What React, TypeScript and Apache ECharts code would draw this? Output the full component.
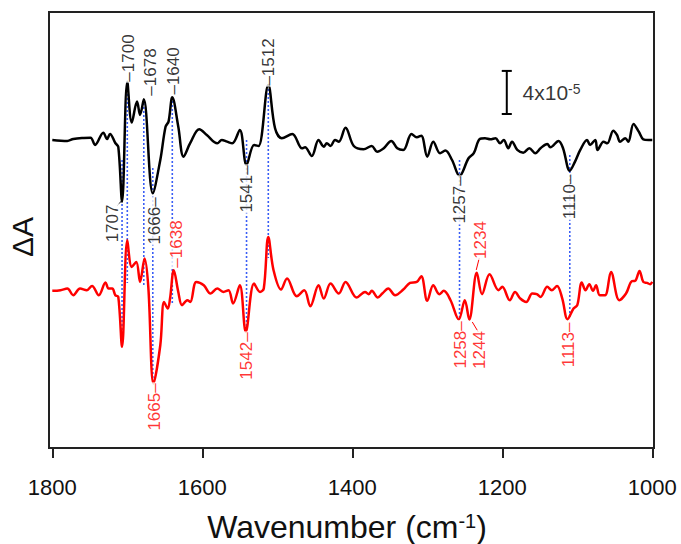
import React, { useEffect, useRef } from "react";
import * as echarts from "echarts";

const FONT = "'Liberation Sans', Arial, Helvetica, sans-serif";

// x ticks (wavenumber, cm-1)
const xTicks = [1800, 1600, 1400, 1200, 1000];

// Black trace: wavenumber and dA (units of 1e-5)
const blackWn = [1800,1780,1772,1758,1749,1743,1732,1727,1723,1716,1712,1707,1700,1694,1687,1683,1678,1666,1656,1649,1645,1640,1632,1625,1616,1604,1594,1580,1574,1567,1560,1550,1541,1531,1525,1512,1503,1494,1480,1467,1463,1454,1445,1438,1434,1429,1423,1418,1409,1398,1385,1374,1367,1358,1348,1340,1332,1321,1314,1308,1300,1292,1283,1276,1267,1257,1245,1238,1230,1223,1216,1209,1203,1198,1192,1187,1180,1172,1164,1156,1149,1140,1136,1125,1119,1110,1103,1096,1087,1083,1076,1073,1065,1060,1052,1047,1043,1036,1032,1025,1018,1012,1005,1000];
const blackDA = [0,-0.09,0.09,0.19,0.21,-0.46,0.68,0.09,0.56,-0.28,-0.65,-5.73,5.41,1.61,3.56,2.32,3.78,-4.95,-1.86,1.23,1.70,3.96,1.23,-1.55,-0.28,0.99,0.46,-0.31,0,-0.16,-0.31,0.93,-2.32,-0.46,-0.56,5.11,1.09,0.16,0.56,-0.77,-0.68,-1.49,0,-0.62,-0.31,-0.56,0,-0.16,1.14,-0.56,-0.86,-0.56,-1.09,-0.77,-0.09,-0.77,-0.93,0.56,0.25,0.40,-1.55,-0.16,-1.23,-0.99,-1.86,-3.34,-1.70,-1.23,0.09,0.16,0.06,0.16,-0.31,0,-0.77,-0.16,-0.93,-1.18,-0.77,-1.23,-0.77,-0.37,-0.68,-0.09,-0.77,-2.85,-2.01,-0.93,0,-0.46,0,-0.93,-0.16,-0.31,0.86,0.46,-0.16,0.16,-0.16,1.49,0.77,0.06,0,0];

// Red trace: wavenumber and dA (units of 1e-5)
const redWn = [1800,1789,1780,1772,1763,1754,1747,1738,1729,1725,1720,1716,1712,1707,1700,1694,1688,1683,1677,1672,1665,1656,1651,1646,1643,1638,1632,1627,1620,1616,1608,1598,1589,1580,1572,1565,1559,1550,1542,1531,1523,1518,1512,1505,1495,1487,1474,1464,1456,1445,1438,1429,1418,1409,1394,1383,1378,1374,1366,1360,1352,1343,1332,1323,1314,1308,1300,1292,1284,1278,1269,1258,1250,1244,1234,1227,1217,1205,1200,1190,1183,1176,1168,1160,1154,1149,1140,1134,1127,1120,1113,1105,1100,1094,1089,1084,1079,1075,1070,1063,1055,1044,1035,1027,1023,1017,1012,1007,1003,1000];
const redDA = [-0.06,0,0.16,-0.46,0.16,0,0.40,-0.46,0.71,0.16,0.16,-0.46,-0.62,-5.26,4.64,2.16,2.63,0.77,2.94,0.31,-8.66,-5.11,-1.09,-1.70,-0.77,1.86,-0.16,-1.39,-0.93,-1.09,0.77,0.46,-0.31,0.16,-0.16,0,-1.23,0.46,-3.87,0.62,-0.16,0.16,4.95,1.86,0.06,1.09,-0.56,0,-1.49,0.46,-0.77,0.62,-0.31,0.77,-0.68,-0.16,-0.37,-0.06,-0.68,-0.31,0.16,-0.46,0.06,0.68,0.77,1.30,-0.99,0.46,-0.37,-0.06,-0.93,-2.72,-0.93,-2.72,1.61,-0.37,1.49,0,0.31,-0.93,-0.16,-0.77,-1.09,-0.31,-0.37,-0.62,0.31,0,0.40,-0.77,-2.69,-1.70,-1.39,0.71,0,0.56,-0.06,0.46,-0.46,-0.46,1.70,-0.93,-0.31,0.84,0.86,1.79,0.77,0.68,0.56,0.77];

// vertical offset of the red trace (1e-5 units)
const RED_OFFSET = -13.95;

// Blue dotted guide lines: wavenumber, top, bottom (plot units)
const guideWn = [1707, 1700, 1678, 1666, 1640, 1541, 1512, 1257, 1110];
const guideTop = [-1.86, 5.39, 3.81, -2.6, 3.99, 0, 5.11, -1.86, -1.39];
const guideBottom = [-19.13, -13.28, -13.65, -22.56, -15.32, -17.64, -10.96, -16.71, -16.62];

// Peak labels
const labelText = ["\u20131700", "\u20131678", "\u20131640", "\u20131512", "1707", "1666\u2013", "1541\u2013", "1257\u2013", "1110\u2013",
  "\u20131638", "1665\u2013", "1542\u2013", "1258\u2013", "1244", "1234", "1113\u2013"];
const labelWn = [1698.7, 1669.3, 1638.7, 1512, 1720, 1664, 1541.3, 1257.3, 1110.7,
  1634.7, 1664, 1541.3, 1256, 1230.7, 1229.3, 1112];
const labelY = [7.61, 6.31, 6.41, 7.24, -7.75, -7.52, -4.55, -5.57, -5.29,
  -9.66, -24.79, -20.06, -19.03, -19.5, -9.29, -19.03];
const labelIsRed = [false, false, false, false, false, false, false, false, false,
  true, true, true, true, true, true, true];

// Angled leader lines (wn1, y1, wn2, y2)
const leaders = [
  { wn: [1713.3, 1707.3], y: [-6.1, -5.62], red: false },
  { wn: [1230.7, 1234.7], y: [-10.96, -12.07], red: true },
  { wn: [1240, 1232], y: [-16.9, -17.83], red: true },
];

// Scale bar (4x10^-5)
const scaleWn = 1194;
const scaleTop = 6.41;
const scaleBottom = 2.41;

export default function App() {
  const ref = useRef<HTMLDivElement>(null);

  useEffect(() => {
    if (!ref.current) return;
    const chart = echarts.init(ref.current, null, { renderer: "svg", width: 681, height: 544 });

    const series: any[] = [];

    guideWn.forEach((w, i) => {
      series.push({
        type: "line",
        data: [[w, guideTop[i]], [w, guideBottom[i]]],
        symbol: "none",
        silent: true,
        z: 1,
        lineStyle: { color: "#3a5ef5", width: 1.6, type: [2, 2] },
      });
    });

    series.push({
      type: "line",
      name: "black",
      data: blackWn.map((w, i) => [w, blackDA[i]]),
      symbol: "none",
      smooth: 0.35,
      z: 3,
      lineStyle: { color: "#000", width: 2.5 },
    });
    series.push({
      type: "line",
      name: "red",
      data: redWn.map((w, i) => [w, redDA[i] + RED_OFFSET]),
      symbol: "none",
      smooth: 0.35,
      z: 3,
      lineStyle: { color: "#ff0000", width: 2.5 },
    });

    leaders.forEach((l) => {
      series.push({
        type: "line",
        data: [[l.wn[0], l.y[0]], [l.wn[1], l.y[1]]],
        symbol: "none",
        z: 4,
        lineStyle: { color: l.red ? "#ff0000" : "#111", width: 1 },
      });
    });

    // scale bar
    const capHalf = 6.7;
    series.push({
      type: "line",
      data: [[scaleWn, scaleTop], [scaleWn, scaleBottom]],
      symbol: "none",
      z: 4,
      lineStyle: { color: "#000", width: 2 },
    });
    series.push({
      type: "line",
      data: [[scaleWn + capHalf, scaleTop], [scaleWn - capHalf, scaleTop]],
      symbol: "none",
      z: 4,
      lineStyle: { color: "#000", width: 2 },
    });
    series.push({
      type: "line",
      data: [[scaleWn + capHalf, scaleBottom], [scaleWn - capHalf, scaleBottom]],
      symbol: "none",
      z: 4,
      lineStyle: { color: "#000", width: 2 },
    });
    series.push({
      type: "scatter",
      data: [[scaleWn - 21, (scaleTop + scaleBottom) / 2]],
      symbolSize: 0,
      itemStyle: { color: "rgba(0,0,0,0)" },
      z: 5,
      label: {
        show: true,
        position: "inside",
        align: "left",
        verticalAlign: "middle",
        formatter: "{a|4x10}{s|-5}",
        rich: {
          a: { fontSize: 21, fontFamily: FONT, color: "#000" },
          s: { fontSize: 14, fontFamily: FONT, color: "#000", verticalAlign: "top" },
        },
      },
    });

    series.push({
      type: "scatter",
      symbolSize: 0,
      itemStyle: { color: "rgba(0,0,0,0)" },
      z: 6,
      data: labelText.map((t, i) => ({
        value: [labelWn[i], labelY[i]],
        label: {
          formatter: t,
          color: labelIsRed[i] ? "#ff0000" : "#000",
        },
      })),
      label: {
        show: true,
        position: "inside",
        rotate: 90,
        fontSize: 17,
        fontFamily: FONT,
        backgroundColor: "#fff",
        padding: [0, 1],
      },
    });

    chart.setOption({
      animation: false,
      grid: {
        left: 49,
        right: 27,
        top: 12,
        bottom: 96,
        containLabel: false,
        outerBoundsMode: "none",
        show: true,
        borderColor: "#222",
        borderWidth: 2,
        backgroundColor: "#fff",
      },
      xAxis: {
        type: "value",
        inverse: true,
        min: 997.7,
        max: 1804.4,
        axisLine: { show: true, onZero: false, lineStyle: { color: "#222", width: 2 } },
        axisTick: {
          show: true,
          inside: false,
          length: 10,
          customValues: xTicks,
          lineStyle: { color: "#222", width: 2 },
        },
        axisLabel: {
          show: true,
          customValues: xTicks,
          fontSize: 22,
          fontFamily: FONT,
          color: "#111",
          margin: 28,
          hideOverlap: false,
          formatter: (v: number) => String(Math.round(v)),
        },
        splitLine: { show: false },
      },
      yAxis: {
        type: "value",
        min: -28.6,
        max: 11.88,
        axisLine: { show: false },
        axisTick: { show: false },
        axisLabel: { show: false },
        splitLine: { show: false },
      },
      graphic: [
        {
          type: "text",
          x: 347,
          y: 527,
          style: {
            text: "{a|Wavenumber (cm}{s|-1}{a|)}",
            rich: {
              a: { fontSize: 32, fontFamily: FONT, fill: "#111" },
              s: { fontSize: 20, fontFamily: FONT, fill: "#111", verticalAlign: "top" },
            },
            align: "center",
            verticalAlign: "middle",
          },
        },
        {
          type: "text",
          x: 22,
          y: 237,
          rotation: Math.PI / 2,
          style: {
            text: "\u0394A",
            fontSize: 30,
            fontFamily: FONT,
            fill: "#111",
            align: "center",
            verticalAlign: "middle",
          },
        },
      ],
      series,
    });

    return () => chart.dispose();
  }, []);

  return (
    <div
      ref={ref}
      style={{ position: "fixed", left: 0, top: 0, width: 681, height: 544, background: "#fff" }}
    />
  );
}
